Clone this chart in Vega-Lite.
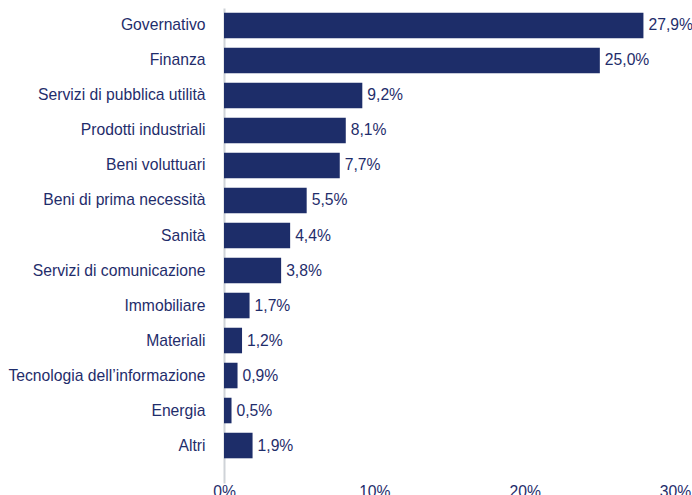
{
  "$schema": "https://vega.github.io/schema/vega-lite/v6.json",
  "width": 451,
  "height": 475,
  "autosize": {"type": "none"},
  "padding": {"left": 224, "top": 8, "right": 17, "bottom": 12},
  "background": "white",
  "config": {
    "view": {"stroke": null},
    "font": "Liberation Sans",
    "locale": {"number": {"decimal": ",", "thousands": ".", "grouping": [3], "currency": ["", " €"]}}
  },
  "data": {
    "values": [
      {"settore": "Governativo", "peso": 0.279},
      {"settore": "Finanza", "peso": 0.250},
      {"settore": "Servizi di pubblica utilità", "peso": 0.092},
      {"settore": "Prodotti industriali", "peso": 0.081},
      {"settore": "Beni voluttuari", "peso": 0.077},
      {"settore": "Beni di prima necessità", "peso": 0.055},
      {"settore": "Sanità", "peso": 0.044},
      {"settore": "Servizi di comunicazione", "peso": 0.038},
      {"settore": "Immobiliare", "peso": 0.017},
      {"settore": "Materiali", "peso": 0.012},
      {"settore": "Tecnologia dell’informazione", "peso": 0.009},
      {"settore": "Energia", "peso": 0.005},
      {"settore": "Altri", "peso": 0.019}
    ]
  },
  "encoding": {
    "y": {
      "field": "settore",
      "type": "nominal",
      "sort": null,
      "scale": {"paddingInner": 0.27, "paddingOuter": 0.42, "align": 0.16},
      "axis": {
        "title": null,
        "ticks": false,
        "domainColor": "#cfd3d8",
        "domainWidth": 2,
        "labelColor": "#1f2d6b",
        "labelFontSize": 15.7,
        "labelPadding": 19,
        "labelLimit": 300
      }
    },
    "x": {
      "field": "peso",
      "type": "quantitative",
      "scale": {"domain": [0, 0.3], "nice": false},
      "axis": {
        "title": null,
        "format": ".0%",
        "values": [0, 0.1, 0.2, 0.3],
        "grid": false,
        "ticks": false,
        "domain": false,
        "labelColor": "#1f2d6b",
        "labelFontSize": 15.7,
        "labelPadding": 1,
        "labelFlush": false
      }
    }
  },
  "layer": [
    {"mark": {"type": "bar", "color": "#1d2d69"}},
    {
      "mark": {"type": "text", "align": "left", "baseline": "middle", "dx": 5, "fontSize": 15.7, "color": "#1f2d6b"},
      "encoding": {"text": {"field": "peso", "type": "quantitative", "format": ".1%"}}
    }
  ]
}
